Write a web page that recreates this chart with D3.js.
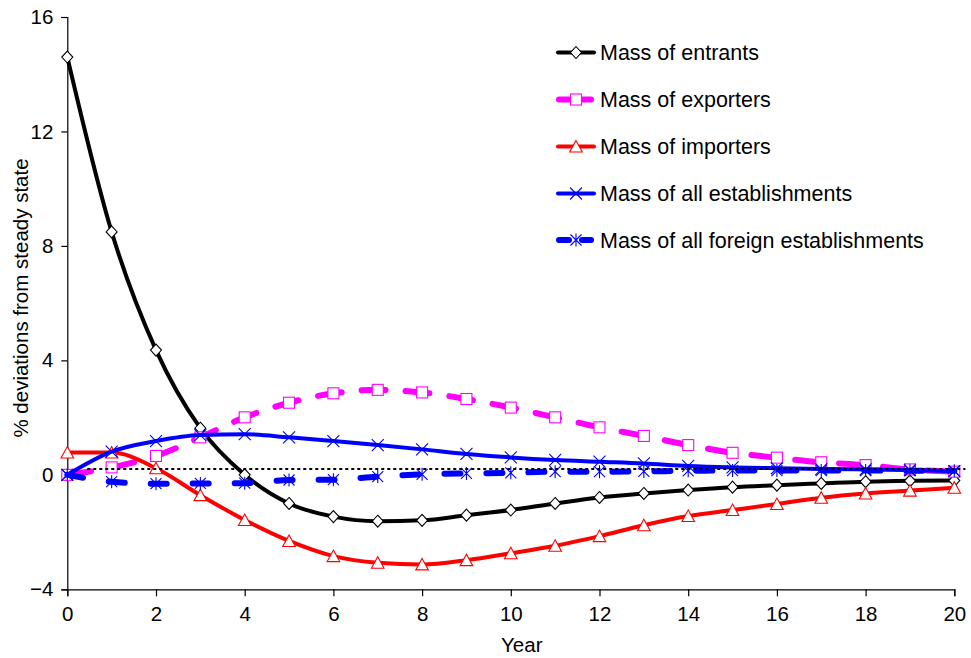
<!DOCTYPE html>
<html>
<head>
<meta charset="utf-8">
<script src="https://cdn.jsdelivr.net/npm/d3@7"></script>
<style>
  html, body { margin: 0; padding: 0; background: #fff; }
  svg { display: block; font-family: "Liberation Sans", Arial, sans-serif; }
</style>
</head>
<body>
<svg id="chart" width="971" height="658"></svg>
<script>
// Years after the shock
const years = d3.range(0, 21);

// % deviations from steady state, one array per series
const entrants = [14.6, 8.49, 4.36, 1.63, 0.0, -1.0, -1.46, -1.62, -1.59, -1.41, -1.23, -1.0, -0.79, -0.65, -0.53, -0.43, -0.36, -0.3, -0.24, -0.21, -0.2];
const exporters = [0.0, 0.26, 0.66, 1.31, 2.01, 2.52, 2.85, 2.97, 2.88, 2.65, 2.35, 2.01, 1.66, 1.36, 1.04, 0.77, 0.6, 0.44, 0.34, 0.19, 0.11];
const importers = [0.78, 0.78, 0.23, -0.71, -1.58, -2.31, -2.84, -3.07, -3.13, -2.98, -2.74, -2.48, -2.14, -1.76, -1.44, -1.23, -1.02, -0.8, -0.65, -0.55, -0.45];
const allEstablishments = [0.0, 0.81, 1.18, 1.39, 1.42, 1.31, 1.18, 1.04, 0.89, 0.73, 0.61, 0.52, 0.46, 0.4, 0.31, 0.26, 0.23, 0.2, 0.19, 0.17, 0.13];
const foreignEstablishments = [0.0, -0.24, -0.31, -0.3, -0.29, -0.18, -0.17, -0.06, 0.02, 0.05, 0.07, 0.11, 0.11, 0.12, 0.14, 0.15, 0.15, 0.15, 0.15, 0.14, 0.14];

// Reference level drawn as a dotted line
const referenceLevel = 0.2;
const referenceSpan = [0.45, 20.25];

const xTicks = [0, 2, 4, 6, 8, 10, 12, 14, 16, 18, 20];
const yTicks = [-4, 0, 4, 8, 12, 16];

const seriesNames = [
  "Mass of entrants",
  "Mass of exporters",
  "Mass of importers",
  "Mass of all establishments",
  "Mass of all foreign establishments"
];

const series = [
  { name: seriesNames[0], values: entrants, color: "#000000", width: 4, dash: null, marker: "diamond" },
  { name: seriesNames[1], values: exporters, color: "#ff00ff", width: 6, dash: "24,20", marker: "square" },
  { name: seriesNames[2], values: importers, color: "#ff0000", width: 4, dash: null, marker: "triangle" },
  { name: seriesNames[3], values: allEstablishments, color: "#0000ff", width: 4, dash: null, marker: "cross" },
  { name: seriesNames[4], values: foreignEstablishments, color: "#0000ff", width: 6, dash: "16,26", marker: "asterisk" }
];

const svg = d3.select("#chart");

const x = d3.scaleLinear().domain([0, 20]).range([67.3, 954.3]);
const y = d3.scaleLinear().domain([-4, 16]).range([589.3, 17]);

// Axes
const xAxis = d3.axisBottom(x).tickValues(xTicks).tickSize(7).tickPadding(8).tickFormat(d3.format("d"));
const yAxis = d3.axisLeft(y).tickValues(yTicks).tickSize(6).tickPadding(8).tickFormat(d3.format("d"));

const gx = svg.append("g").attr("transform", `translate(0,${y(-4)})`).call(xAxis);
const gy = svg.append("g").attr("transform", `translate(${x(0)},0)`).call(yAxis);

[gx, gy].forEach(g => {
  g.select(".domain").attr("stroke", "#000").attr("stroke-width", 1.2);
  g.selectAll(".tick line").attr("stroke", "#000").attr("stroke-width", 1.2);
  g.selectAll(".tick text").attr("fill", "#000").attr("font-size", 20.5)
    .attr("font-family", "'Liberation Sans', Arial, sans-serif");
});
gx.selectAll(".tick text").attr("dy", "0.8em");

// Axis titles
svg.append("text")
  .attr("x", (x(0) + x(20)) / 2 + 11)
  .attr("y", 652)
  .attr("text-anchor", "middle")
  .attr("font-size", 20.5)
  .text("Year");

svg.append("text")
  .attr("transform", `translate(28,${298}) rotate(-90)`)
  .attr("text-anchor", "middle")
  .attr("font-size", 20.5)
  .text("% deviations from steady state");

// Marker shapes
function drawMarker(g, type, cx, cy, color) {
  const s = 5.5;
  if (type === "diamond") {
    g.append("path")
      .attr("d", `M${cx},${cy - s - 0.5}L${cx + s},${cy}L${cx},${cy + s + 0.5}L${cx - s},${cy}Z`)
      .attr("fill", "#fff").attr("stroke", color).attr("stroke-width", 1.1);
  } else if (type === "square") {
    g.append("rect")
      .attr("x", cx - s).attr("y", cy - s).attr("width", 2 * s).attr("height", 2 * s)
      .attr("fill", "#fff").attr("stroke", color).attr("stroke-width", 1.1);
  } else if (type === "triangle") {
    g.append("path")
      .attr("d", `M${cx},${cy - s - 0.5}L${cx + s + 0.8},${cy + s}L${cx - s - 0.8},${cy + s}Z`)
      .attr("fill", "#fff").attr("stroke", color).attr("stroke-width", 1.1);
  } else if (type === "cross") {
    g.append("path")
      .attr("d", `M${cx - s - 0.5},${cy - s - 0.5}L${cx + s + 0.5},${cy + s + 0.5}M${cx - s - 0.5},${cy + s + 0.5}L${cx + s + 0.5},${cy - s - 0.5}`)
      .attr("fill", "none").attr("stroke", color).attr("stroke-width", 1.1);
  } else if (type === "asterisk") {
    g.append("path")
      .attr("d", `M${cx - s},${cy - s}L${cx + s},${cy + s}M${cx - s},${cy + s}L${cx + s},${cy - s}M${cx},${cy - s - 1}L${cx},${cy + s + 1}`)
      .attr("fill", "none").attr("stroke", color).attr("stroke-width", 1.1);
  }
}

const line = d3.line()
  .x((d, i) => x(years[i]))
  .y(d => y(d))
  .curve(d3.curveMonotoneX);

const plot = svg.append("g");

series.forEach(s => {
  const g = plot.append("g");
  g.append("path")
    .datum(s.values)
    .attr("d", line)
    .attr("fill", "none")
    .attr("stroke", s.color)
    .attr("stroke-width", s.width)
    .attr("stroke-linecap", "round")
    .attr("stroke-linejoin", "round")
    .attr("stroke-dasharray", s.dash);
  s.values.forEach((v, i) => drawMarker(g, s.marker, x(years[i]), y(v), s.color));
});

// Dotted reference line
plot.append("line")
  .attr("x1", x(referenceSpan[0])).attr("x2", x(referenceSpan[1]))
  .attr("y1", y(referenceLevel)).attr("y2", y(referenceLevel))
  .attr("stroke", "#000").attr("stroke-width", 2).attr("stroke-dasharray", "3,3");

// Legend
const legend = svg.append("g");
const legendRows = [52.5, 99.5, 146.5, 193.5, 240];
series.forEach((s, i) => {
  const ly = legendRows[i];
  const g = legend.append("g");
  if (s.dash) {
    g.append("line").attr("x1", 559).attr("x2", 569).attr("y1", ly).attr("y2", ly)
      .attr("stroke", s.color).attr("stroke-width", s.width).attr("stroke-linecap", "round");
    g.append("line").attr("x1", 582).attr("x2", 591).attr("y1", ly).attr("y2", ly)
      .attr("stroke", s.color).attr("stroke-width", s.width).attr("stroke-linecap", "round");
  } else {
    g.append("line").attr("x1", 558).attr("x2", 594).attr("y1", ly).attr("y2", ly)
      .attr("stroke", s.color).attr("stroke-width", s.width).attr("stroke-linecap", "round");
  }
  drawMarker(g, s.marker, 576, ly, s.color);
  g.append("text")
    .attr("x", 600).attr("y", ly).attr("dy", "0.35em")
    .attr("font-size", 21.5)
    .text(s.name);
});
</script>
</body>
</html>
